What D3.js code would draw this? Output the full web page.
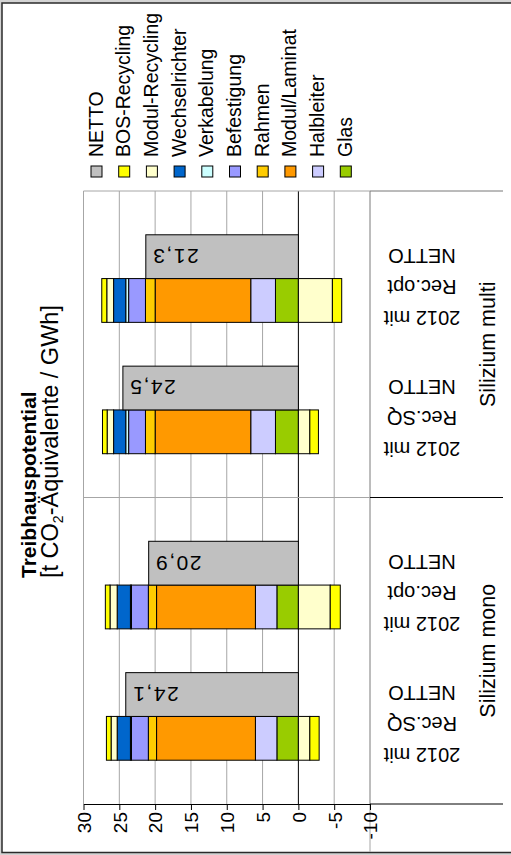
<!DOCTYPE html>
<html>
<head>
<meta charset="utf-8">
<script src="https://cdn.jsdelivr.net/npm/d3@7.9.0/dist/d3.min.js"></script>
<style>
  html, body { margin: 0; padding: 0; background: #fff; }
  svg { display: block; font-family: "Liberation Sans", Arial, sans-serif; }
</style>
</head>
<body>
<svg id="chart"></svg>
<script>
// data (t CO2-eq / GWh)
const groups = ['Silizium mono', 'Silizium multi'];
const scenarios = ['Rec.SQ', 'Rec.opt'];
const scenarioLines = [['2012 mit', 'Rec.SQ', 'NETTO'], ['2012 mit', 'Rec.opt', 'NETTO']];

// one value per bar: mono SQ, mono opt, multi SQ, multi opt
const netto = [24.1, 20.9, 24.5, 21.3];
const glas = [3.0, 3.0, 3.2, 3.2];
const halbleiter = [3.0, 3.0, 3.45, 3.45];
const modulLaminat = [13.8, 13.8, 13.35, 13.35];
const rahmen = [1.15, 1.15, 1.35, 1.35];
const befestigung = [2.35, 2.35, 2.35, 2.35];
const verkabelung = [0.15, 0.15, 0.4, 0.4];
const wechselrichter = [1.85, 1.85, 1.7, 1.7];
const modulRecyclingAufwand = [0.85, 1.0, 0.9, 0.95];
const bosRecyclingAufwand = [0.65, 0.65, 0.65, 0.7];
const modulRecyclingGutschrift = [-1.6, -4.45, -1.6, -4.75];
const bosRecyclingGutschrift = [-1.3, -1.4, -1.2, -1.3];

const valueTicks = [30, 25, 20, 15, 10, 5, 0, -5, -10];

const legendNames = ['NETTO', 'BOS-Recycling', 'Modul-Recycling', 'Wechselrichter', 'Verkabelung',
  'Befestigung', 'Rahmen', 'Modul/Laminat', 'Halbleiter', 'Glas'];
const legendColors = ['#c0c0c0', '#ffff00', '#ffffcc', '#0066cc', '#ccffff',
  '#9999ff', '#ffcc00', '#ff9900', '#ccccff', '#99cc00'];

const width = 511;
const height = 855;
const color = d3.scaleOrdinal(legendNames, legendColors);

// stack keys -> legend entry (recycling has a burden part and a credit part)
const keys = ['Glas', 'Halbleiter', 'Modul/Laminat', 'Rahmen', 'Befestigung', 'Verkabelung',
  'Wechselrichter', 'Modul-Recycling+', 'BOS-Recycling+', 'Modul-Recycling-', 'BOS-Recycling-'];
const series = [glas, halbleiter, modulLaminat, rahmen, befestigung, verkabelung,
  wechselrichter, modulRecyclingAufwand, bosRecyclingAufwand, modulRecyclingGutschrift, bosRecyclingGutschrift];
const keyColor = k => color(k.replace(/[+-]$/, ''));

const bars = [];
groups.forEach((g, gi) => scenarios.forEach((s, si) => {
  const i = gi * scenarios.length + si;
  const row = { group: g, scenario: s, netto: netto[i], lines: scenarioLines[si] };
  keys.forEach((k, ki) => { row[k] = series[ki][i]; });
  bars.push(row);
}));

const stacked = d3.stack().keys(keys).offset(d3.stackOffsetDiverging)(bars);

const svg = d3.select('#chart').attr('width', width).attr('height', height);

// outer frame
svg.append('rect').attr('width', width).attr('height', height).attr('fill', '#d4d4d4');
svg.append('rect')
  .attr('x', 2).attr('y', 3).attr('width', width + 10).attr('height', 849.5)
  .attr('fill', '#fff').attr('stroke', '#2b2b2b').attr('stroke-width', 1.5);

const plot = { left: 83.5, right: 370, top: 191, bottom: 804 };

const x = d3.scaleLinear().domain([30, -10]).range([plot.left, plot.right]);
const yGroup = d3.scaleBand().domain(groups).range([plot.bottom, plot.top]);
const yScen = d3.scaleBand().domain(scenarios).range([yGroup.bandwidth(), 0])
  .paddingInner(1 / 3).paddingOuter(1 / 3);
const ySeries = d3.scaleBand().domain(['stack', 'netto']).range([yScen.bandwidth(), 0]);
const barY = (d, s) => yGroup(d.group) + yScen(d.scenario) + ySeries(s);

// grid
svg.append('g').selectAll('line')
  .data(valueTicks)
  .join('line')
  .attr('x1', d => x(d)).attr('x2', d => x(d))
  .attr('y1', plot.top).attr('y2', plot.bottom)
  .attr('stroke', d => d === 0 ? '#000' : '#a6a6a6')
  .attr('stroke-width', 1);
svg.append('line')
  .attr('x1', plot.left).attr('x2', plot.right)
  .attr('y1', plot.top).attr('y2', plot.top)
  .attr('stroke', '#a6a6a6');
svg.append('line')
  .attr('x1', plot.left).attr('x2', plot.right)
  .attr('y1', yGroup(groups[1]) + yGroup.bandwidth()).attr('y2', yGroup(groups[1]) + yGroup.bandwidth())
  .attr('stroke', '#a6a6a6');
svg.append('line')
  .attr('x1', plot.right).attr('x2', plot.right)
  .attr('y1', plot.top).attr('y2', 852)
  .attr('stroke', '#a6a6a6');

// category separators to the right of the plot
const sepY = [plot.top, ...groups.map(g => yGroup(g) + yGroup.bandwidth())];
svg.append('g').selectAll('line')
  .data(sepY)
  .join('line')
  .attr('x1', plot.right).attr('x2', 503)
  .attr('y1', d => d).attr('y2', d => d)
  .attr('stroke', (d, i) => i === 0 ? '#777' : '#000');

// stacked components
svg.append('g')
  .selectAll('g')
  .data(stacked)
  .join('g')
  .attr('fill', d => keyColor(d.key))
  .selectAll('rect')
  .data(d => d)
  .join('rect')
  .attr('x', d => x(Math.max(d[0], d[1])))
  .attr('width', d => Math.abs(x(d[0]) - x(d[1])))
  .attr('y', d => barY(d.data, 'stack'))
  .attr('height', ySeries.bandwidth())
  .attr('stroke', '#000')
  .attr('stroke-width', 1);

// NETTO bars
svg.append('g')
  .selectAll('rect')
  .data(bars)
  .join('rect')
  .attr('x', d => x(d.netto))
  .attr('width', d => x(0) - x(d.netto))
  .attr('y', d => barY(d, 'netto'))
  .attr('height', ySeries.bandwidth())
  .attr('fill', color('NETTO'))
  .attr('stroke', '#000');

const fmt = d3.formatLocale({ decimal: ',', thousands: '.', grouping: [3], currency: ['', ''] }).format('.1f');

svg.append('g')
  .selectAll('text')
  .data(bars)
  .join('text')
  .attr('transform', d => `translate(${x(d.netto) + 6},${barY(d, 'netto') + ySeries.bandwidth() / 2}) rotate(180)`)
  .attr('text-anchor', 'end')
  .attr('dy', '0.36em')
  .attr('font-size', 21)
  .attr('letter-spacing', 1.5)
  .text(d => fmt(d.netto));

// value axis
const axis = svg.append('g')
  .attr('transform', `translate(0,${plot.bottom})`)
  .call(d3.axisBottom(x).tickValues(valueTicks).tickFormat(d => String(d)).tickSize(6).tickSizeOuter(0));
axis.select('.domain').attr('stroke', '#000');
axis.selectAll('.tick line').attr('stroke', '#000');
axis.selectAll('.tick text')
  .attr('transform', 'rotate(-90)')
  .attr('x', -8).attr('y', 0).attr('dy', '0.36em')
  .attr('text-anchor', 'end')
  .attr('fill', '#000')
  .attr('font-family', '"Liberation Sans", Arial, sans-serif')
  .attr('font-size', 19);

// category labels (upside down)
const catLabels = svg.append('g')
  .selectAll('text')
  .data(bars)
  .join('text')
  .attr('transform', d => `translate(422,${yGroup(d.group) + yScen(d.scenario) + yScen.bandwidth() / 2 + 8}) rotate(180)`)
  .attr('text-anchor', 'middle')
  .attr('font-size', 20);
catLabels.selectAll('tspan')
  .data(d => d.lines)
  .join('tspan')
  .attr('x', 0)
  .attr('y', (d, i) => (i - 1) * 31)
  .attr('dy', '0.35em')
  .text(d => d);

// group labels
svg.append('g')
  .selectAll('text')
  .data(groups)
  .join('text')
  .attr('transform', d => `translate(487,${yGroup(d) + yGroup.bandwidth() / 2}) rotate(-90)`)
  .attr('text-anchor', 'middle')
  .attr('dy', '0.35em')
  .attr('font-size', 21.5)
  .text(d => d);

// title
const title = svg.append('g').attr('transform', 'translate(0,578)');
title.append('text')
  .attr('transform', 'translate(36,0) rotate(-90)')
  .attr('font-size', 21)
  .attr('font-weight', 'bold')
  .text('Treibhauspotential');
const sub = title.append('text')
  .attr('transform', 'translate(58,0) rotate(-90)')
  .attr('font-size', 23.5);
sub.append('tspan').text('[t CO');
sub.append('tspan').attr('font-size', 14).attr('dy', 5).text('2');
sub.append('tspan').attr('dy', -5).text('-Äquivalente / GWh]');

// legend
const lx = d3.scalePoint().domain(legendNames).range([96.5, 345.8]);
const legend = svg.append('g')
  .selectAll('g')
  .data(legendNames)
  .join('g')
  .attr('transform', d => `translate(${lx(d)},0)`);
legend.append('rect')
  .attr('x', -5.5).attr('y', 166)
  .attr('width', 11).attr('height', 11)
  .attr('fill', d => color(d))
  .attr('stroke', '#000');
legend.append('text')
  .attr('transform', 'translate(6,157) rotate(-90)')
  .attr('font-size', 19.5)
  .text(d => d);
</script>
</body>
</html>
